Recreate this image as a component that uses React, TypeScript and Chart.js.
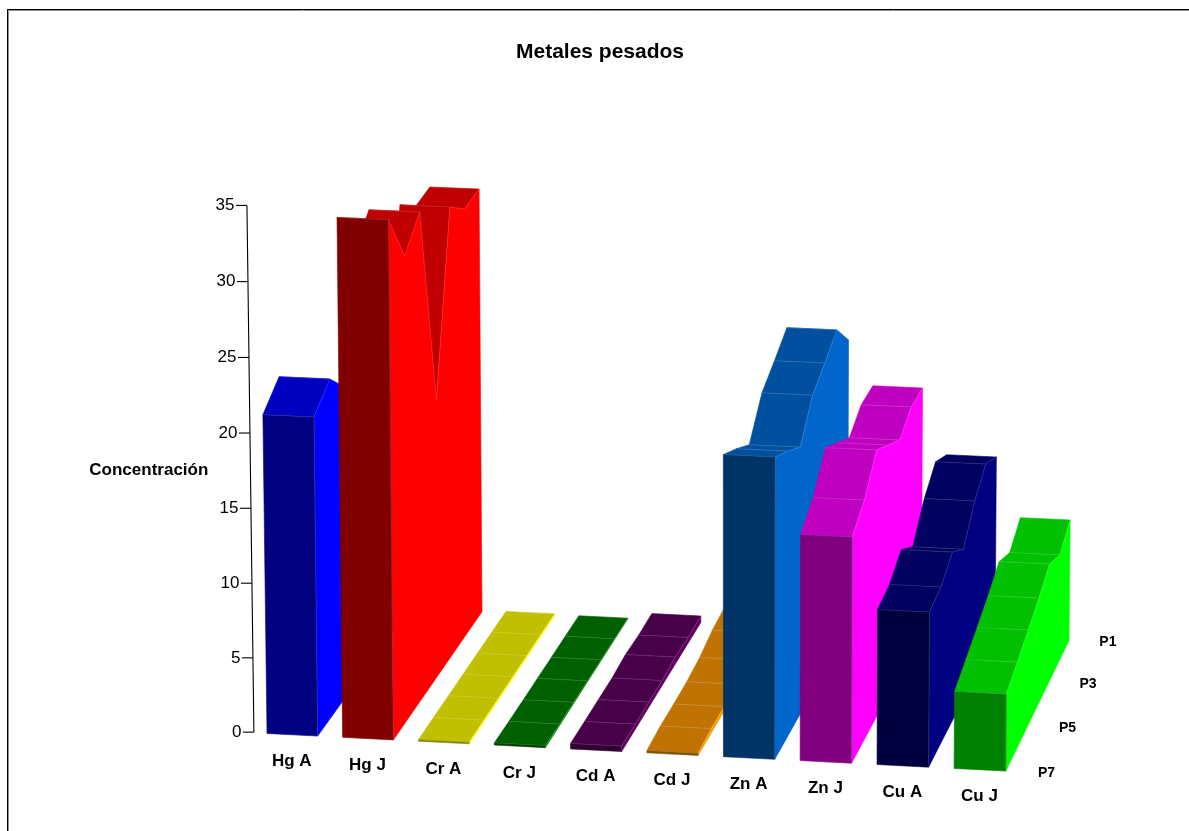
import React, { useEffect, useRef } from "react";
import { Chart, registerables } from "chart.js";

Chart.register(...registerables);

// Sampling points, back row first.
const rows = ["P1", "P2", "P3", "P4", "P5", "P6", "P7"];
const metals = ["Hg A", "Hg J", "Cr A", "Cr J", "Cd A", "Cd J", "Zn A", "Zn J", "Cu A", "Cu J"];

const hgA = [15.9, 16.4, 17.9, 19.3, 20.6, 22.5, 21.3];
const hgJ = [29.25, 29.1, 30.46, 18.7, 32.56, 30.88, 34.5];
const crA = [0.1, 0.1, 0.1, 0.1, 0.1, 0.1, 0.1];
const crJ = [0.05, 0.06, 0.06, 0.07, 0.08, 0.1, 0.15];
const cdA = [0.45, 0.4, 0.5, 0.35, 0.35, 0.35, 0.37];
const cdJ = [1.2, 1.0, 0.55, 0.35, 0.3, 0.3, 0.15];
const znA = [20.0, 21.98, 21.03, 20.17, 18.02, 19.1, 20.06];
const znJ = [16.94, 16.96, 16.05, 17.05, 18.06, 16.09, 15.03];
const cuA = [12.43, 13.3, 12.15, 10.27, 11.47, 10.55, 10.31];
const cuJ = [8.33, 7.32, 8.1, 7.21, 6.49, 5.79, 5.12];
const seriesValues = [hgA, hgJ, crA, crJ, cdA, cdJ, znA, znJ, cuA, cuJ];

// Shades per ribbon: front face, top surface, right wall.
const frontColors = ["#000080", "#800000", "#808000", "#004000", "#300030", "#805000", "#003366", "#800080", "#000040", "#008000"];
const topColors = ["#0000c0", "#c00000", "#c0c000", "#006000", "#480048", "#c07300", "#00509f", "#c000c0", "#000060", "#00c000"];
const wallColors = ["#0000ff", "#ff0000", "#ffff00", "#008000", "#600060", "#ff9900", "#0066cc", "#ff00ff", "#000080", "#00ff00"];

const FONT = "'Liberation Sans', Arial, sans-serif";
const BAR_WIDTH = 0.67;

// Perspective camera: X counts ribbons, Y is the value, Z runs 0 (front) to 1 (back).
function project(X: number, Y: number, Z: number): [number, number] {
  const w = 1 - 0.0012 * X - 0.00041 * Y + 0.0443 * Z;
  return [
    (267 + 75.2 * X - 0.3 * Y + 109.8 * Z) / w,
    (733.5 + 2.96 * X - 15.14 * Y - 100.8 * Z) / w,
  ];
}

function polygon(ctx: CanvasRenderingContext2D, pts: [number, number][], fill: string) {
  ctx.beginPath();
  pts.forEach(([x, y], i) => (i ? ctx.lineTo(x, y) : ctx.moveTo(x, y)));
  ctx.closePath();
  ctx.fillStyle = fill;
  ctx.strokeStyle = fill;
  ctx.lineWidth = 0.6;
  ctx.fill();
  ctx.stroke();
}

function edge(ctx: CanvasRenderingContext2D, a: [number, number], b: [number, number], alpha: number) {
  ctx.beginPath();
  ctx.moveTo(a[0], a[1]);
  ctx.lineTo(b[0], b[1]);
  ctx.strokeStyle = `rgba(255,255,255,${alpha})`;
  ctx.lineWidth = 0.7;
  ctx.stroke();
}

function frameLine(ctx: CanvasRenderingContext2D, x0: number, y0: number, x1: number, y1: number, color: string) {
  ctx.strokeStyle = color;
  ctx.lineWidth = 1;
  ctx.beginPath();
  ctx.moveTo(x0, y0);
  ctx.lineTo(x1, y1);
  ctx.stroke();
}

const ribbons3d = {
  id: "ribbons3d",
  afterDatasetsDraw(chart: any) {
    const { ctx, scales, width, height } = chart;
    const { x: rowScale, y: valueScale, metal: metalScale } = scales;
    const unit = metalScale.getPixelForValue(1) - metalScale.getPixelForValue(0);
    const metalX = (i: number) => (metalScale.getPixelForValue(i) - metalScale.getPixelForValue(0)) / unit;
    const rowSpan = rowScale.getPixelForValue(rows.length - 1) - rowScale.getPixelForValue(0);
    const rowZ = (r: number) => 1 - (rowScale.getPixelForValue(r) - rowScale.getPixelForValue(0)) / rowSpan;
    const valueUnit = valueScale.getPixelForValue(0) - valueScale.getPixelForValue(1);
    const valueY = (v: number) => (valueScale.getPixelForValue(0) - valueScale.getPixelForValue(v)) / valueUnit;

    ctx.save();

    // Frame along the top and left edges: a black line with a grey shadow
    frameLine(ctx, 8.5, 10.5, width, 10.5, "#8c8c8c");
    frameLine(ctx, 8.5, 10.5, 8.5, height, "#8c8c8c");
    frameLine(ctx, 7, 9.5, width, 9.5, "#000");
    frameLine(ctx, 7.5, 9, 7.5, height, "#000");

    // Value axis, standing just left of the first ribbon
    const axisX = -0.18;
    const axisZ = 0.005;
    const axisTop = project(axisX, valueY(valueScale.max), axisZ);
    const axisBottom = project(axisX, valueY(valueScale.min), axisZ);
    ctx.strokeStyle = "#000";
    ctx.lineWidth = 1.1;
    ctx.beginPath();
    ctx.moveTo(axisTop[0], axisTop[1]);
    ctx.lineTo(axisBottom[0], axisBottom[1]);
    ctx.stroke();
    ctx.fillStyle = "#000";
    ctx.font = `17px ${FONT}`;
    ctx.textAlign = "right";
    ctx.textBaseline = "middle";
    valueScale.ticks.forEach((t: any) => {
      const [px, py] = project(axisX, valueY(t.value), axisZ);
      ctx.beginPath();
      ctx.moveTo(px, py);
      ctx.lineTo(px - 11, py);
      ctx.stroke();
      ctx.fillText(t.label, px - 12.5, py);
    });

    // Ribbons run left to right, each painted from its back row forward
    chart.data.datasets.forEach((ds: any, i: number) => {
      const left = metalX(i);
      const right = left + BAR_WIDTH;
      const n = ds.data.length;
      const leftTop = ds.data.map((v: number, r: number) => project(left, valueY(v), rowZ(r)));
      const rightTop = ds.data.map((v: number, r: number) => project(right, valueY(v), rowZ(r)));
      for (let r = 0; r < n - 1; r++) {
        polygon(ctx, [leftTop[r], rightTop[r], rightTop[r + 1], leftTop[r + 1]], topColors[i]);
        if (r > 0) edge(ctx, leftTop[r], rightTop[r], 0.2);
      }
      const wall: [number, number][] = [...rightTop];
      for (let r = n - 1; r >= 0; r--) wall.push(project(right, 0, rowZ(r)));
      polygon(ctx, wall, wallColors[i]);
      const frontBase = rowZ(n - 1);
      const frontFace: [number, number][] = [
        leftTop[n - 1],
        rightTop[n - 1],
        project(right, 0, frontBase),
        project(left, 0, frontBase),
      ];
      polygon(ctx, frontFace, frontColors[i]);
      edge(ctx, frontFace[0], frontFace[1], 0.2);
      edge(ctx, frontFace[1], frontFace[2], 0.2);
      for (let r = 0; r < n - 1; r++) edge(ctx, rightTop[r], rightTop[r + 1], 0.2);
    });

    // Category labels along the front edge
    ctx.fillStyle = "#000";
    ctx.font = `bold 17px ${FONT}`;
    ctx.textAlign = "center";
    metals.forEach((m, i) => {
      const [px, py] = project(metalX(i) + BAR_WIDTH / 2, 0, 0);
      ctx.fillText(m, px - 0.5, py + 26.5);
    });

    // Depth labels on every other row
    ctx.font = `bold 14px ${FONT}`;
    rows.forEach((label, r) => {
      if (r % 2 === 0) {
        const [px, py] = project(metalX(metals.length - 1) + 1.195, 0, rowZ(r));
        ctx.fillText(label, px, py);
      }
    });

    // Value axis title
    ctx.font = `bold 17px ${FONT}`;
    const [tx, ty] = project(axisX - 1.34, valueY(17.18), axisZ);
    ctx.fillText("Concentración", tx, ty);

    ctx.restore();
  },
};

export default function App() {
  const ref = useRef<HTMLCanvasElement>(null);
  useEffect(() => {
    const chart = new Chart(ref.current!, {
      type: "line",
      data: {
        labels: rows,
        datasets: metals.map((label, i) => ({
          label,
          data: seriesValues[i],
          showLine: false,
          pointRadius: 0,
          xAxisID: "x",
          yAxisID: "y",
        })),
      },
      options: {
        animation: false,
        responsive: false,
        events: [],
        layout: { padding: { left: 11 } },
        plugins: {
          legend: { display: false },
          tooltip: { enabled: false },
          title: {
            display: true,
            text: "Metales pesados",
            color: "#000",
            font: { family: FONT, size: 21, weight: "bold" },
            padding: { top: 40, bottom: 10 },
          },
        },
        scales: {
          x: { type: "category", display: false },
          y: { type: "linear", display: false, min: 0, max: 35, ticks: { stepSize: 5 } },
          metal: { type: "category", axis: "x", labels: metals, offset: true, display: false },
        },
      },
      plugins: [ribbons3d],
    } as any);
    return () => chart.destroy();
  }, []);
  return (
    <div style={{ position: "fixed", left: 0, top: 0, width: 1189, height: 831, background: "#fff" }}>
      <canvas ref={ref} width={1189} height={831} style={{ display: "block" }} />
    </div>
  );
}
